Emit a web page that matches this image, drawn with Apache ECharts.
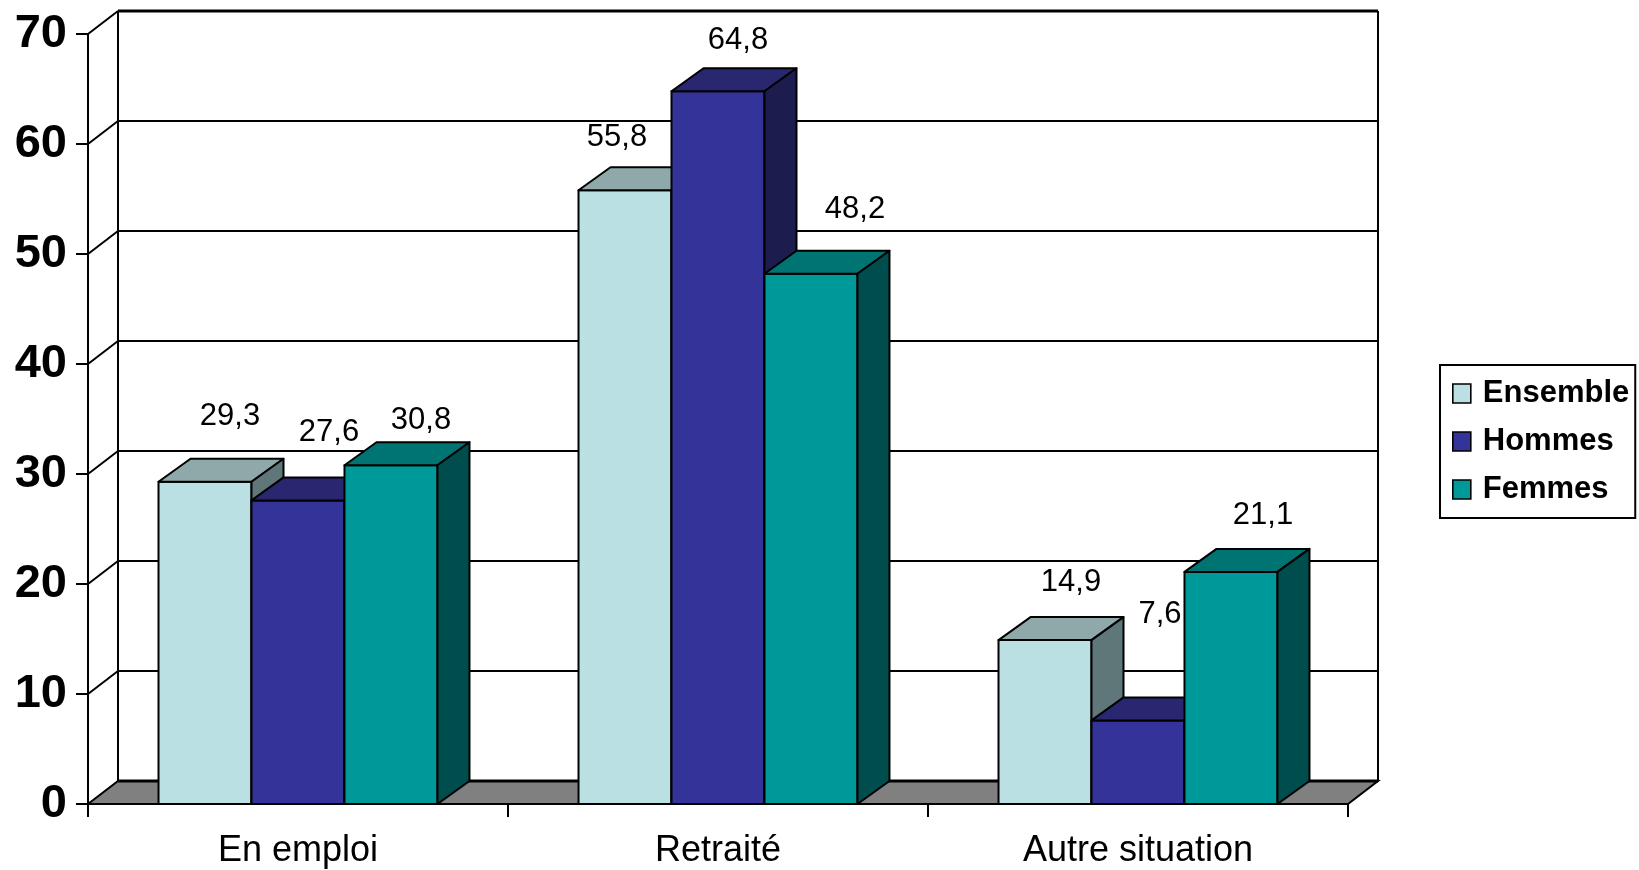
<!DOCTYPE html>
<html>
<head>
<meta charset="utf-8">
<script src="https://cdn.jsdelivr.net/npm/echarts@6/dist/echarts.min.js"></script>
<style>
  html, body { margin: 0; padding: 0; background: #fff; }
  #chart { width: 1639px; height: 870px; }
</style>
</head>
<body>
<div id="chart"></div>
<script>
// Situation categories and the three population groups
const categories = ['En emploi', 'Retraité', 'Autre situation'];
const seriesNames = ['Ensemble', 'Hommes', 'Femmes'];
const ensemble = [29.3, 55.8, 14.9];
const hommes = [27.6, 64.8, 7.6];
const femmes = [30.8, 48.2, 21.1];
const yMin = 0;
const yMax = 70;
const yStep = 10;

const FONT = "'Liberation Sans', Arial, Helvetica, sans-serif";

// Face colours of each block: front, top, right side
const palette = [
  { front: '#BAE0E3', top: '#8FA9AB', side: '#5F7778' },
  { front: '#333399', top: '#28276F', side: '#1D1C4E' },
  { front: '#009999', top: '#007373', side: '#004D4D' }
];

// Small per-label nudges (px) from the back-centre of each block's top
const labelNudge = [
  [[-7, -42], [-40, -30], [-6, -35]],
  [[-1, -45], [-12, -28], [-10, -83]],
  [[-2, -22], [12, -41], [0, -33]]
];

const BAR_DEPTH = [32, -23];   // oblique offset of a block's back face
const WALL_DEPTH = [30, -23];  // oblique offset of the back wall
const BAR_FRACTION = 0.2214;   // block width as a share of a category band
const EDGE = { stroke: '#000', lineWidth: 2, lineJoin: 'round' };

const valuesBySeries = [ensemble, hommes, femmes];

function blockGeometry(api, seriesIdx, catIdx, value) {
  const base = api.coord([catIdx, 0]);
  const top = api.coord([catIdx, value]);
  const band = api.size([1, 0])[0];
  const bw = band * BAR_FRACTION;
  const x0 = base[0] - 1.5 * bw + seriesIdx * bw;
  return { x0: x0, x1: x0 + bw, yb: base[1], yt: top[1], bw: bw };
}

function blockRenderer(seriesIdx) {
  return function (params, api) {
    const g = blockGeometry(api, seriesIdx, api.value(0), api.value(1));
    const dx = BAR_DEPTH[0], dy = BAR_DEPTH[1];
    const c = palette[seriesIdx];
    return {
      type: 'group',
      children: [
        { type: 'polygon',
          shape: { points: [[g.x0, g.yt], [g.x1, g.yt], [g.x1, g.yb], [g.x0, g.yb]] },
          style: Object.assign({ fill: c.front }, EDGE) },
        { type: 'polygon',
          shape: { points: [[g.x0, g.yt], [g.x0 + dx, g.yt + dy], [g.x1 + dx, g.yt + dy], [g.x1, g.yt]] },
          style: Object.assign({ fill: c.top }, EDGE) },
        { type: 'polygon',
          shape: { points: [[g.x1, g.yt], [g.x1 + dx, g.yt + dy], [g.x1 + dx, g.yb + dy], [g.x1, g.yb]] },
          style: Object.assign({ fill: c.side }, EDGE) }
      ]
    };
  };
}

// Back wall, left wall gridlines and grey floor
function wallRenderer(params, api) {
  const cs = params.coordSys;
  const dx = WALL_DEPTH[0], dy = WALL_DEPTH[1];
  const xl = cs.x, xr = cs.x + cs.width;
  const children = [];
  const y0 = api.coord([0, yMin])[1];
  const yTop = api.coord([0, yMax])[1];
  children.push({ type: 'polygon',
    shape: { points: [[xl, y0], [xr, y0], [xr + dx, y0 + dy], [xl + dx, y0 + dy]] },
    style: { fill: '#808080', stroke: '#000', lineWidth: 2 } });
  for (let v = yMin; v <= yMax; v += yStep) {
    const yf = api.coord([0, v])[1];
    const w = (v === yMin || v === yMax) ? 3.2 : 2;
    children.push({ type: 'line',
      shape: { x1: xl + dx, y1: yf + dy, x2: xr + dx, y2: yf + dy },
      style: { stroke: '#000', lineWidth: w } });
    if (v > yMin) {
      children.push({ type: 'line',
        shape: { x1: xl, y1: yf, x2: xl + dx, y2: yf + dy },
        style: { stroke: '#000', lineWidth: 2 } });
    }
  }
  children.push({ type: 'line',
    shape: { x1: xl + dx, y1: yTop + dy, x2: xl + dx, y2: y0 + dy },
    style: { stroke: '#000', lineWidth: 2 } });
  children.push({ type: 'line',
    shape: { x1: xr + dx, y1: yTop + dy, x2: xr + dx, y2: y0 + dy },
    style: { stroke: '#000', lineWidth: 2 } });
  return { type: 'group', children: children };
}

// Value labels above each block
function labelRenderer(params, api) {
  const si = api.value(2), ci = api.value(0), v = api.value(1);
  const g = blockGeometry(api, si, ci, v);
  const nudge = labelNudge[si][ci];
  return {
    type: 'text',
    x: g.x0 + g.bw / 2 + BAR_DEPTH[0] + nudge[0],
    y: g.yt + BAR_DEPTH[1] + nudge[1],
    style: {
      text: String(v).replace('.', ','),
      fill: '#000',
      font: '31px ' + FONT,
      align: 'center',
      verticalAlign: 'middle'
    }
  };
}

const labelData = [];
valuesBySeries.forEach(function (vals, si) {
  vals.forEach(function (v, ci) { labelData.push([ci, v, si]); });
});

const series = [
  { type: 'custom', name: 'wall', z: 1, silent: true,
    renderItem: wallRenderer, data: [[0, 0]] }
];
seriesNames.forEach(function (name, si) {
  series.push({
    type: 'custom', name: name, z: 3 + si,
    itemStyle: { color: palette[si].front },
    renderItem: blockRenderer(si),
    data: valuesBySeries[si].map(function (v, ci) { return [ci, v]; })
  });
});
series.push({ type: 'custom', name: 'labels', z: 10, silent: true,
  renderItem: labelRenderer, data: labelData });

const chart = echarts.init(document.getElementById('chart'), null, { renderer: 'canvas' });
chart.setOption({
  animation: false,
  backgroundColor: '#fff',
  grid: { left: 88, top: 34, right: 291, bottom: 66 },
  xAxis: {
    type: 'category',
    data: categories,
    boundaryGap: true,
    axisLine: { show: true, lineStyle: { color: '#000', width: 2 } },
    axisTick: { show: true, length: 13, lineStyle: { color: '#000', width: 2 } },
    axisLabel: { color: '#000', fontSize: 36, fontFamily: FONT, margin: 29 },
    splitLine: { show: false }
  },
  yAxis: {
    type: 'value',
    min: yMin, max: yMax, interval: yStep,
    axisLine: { show: true, lineStyle: { color: '#000', width: 2 } },
    axisTick: { show: true, length: 12, lineStyle: { color: '#000', width: 2 } },
    axisLabel: { color: '#000', fontSize: 47, fontWeight: 'bold', fontFamily: FONT, margin: 21 },
    splitLine: { show: false }
  },
  legend: {
    data: seriesNames,
    orient: 'vertical',
    left: 1440, top: 365,
    padding: [13, 6, 13, 12],
    itemGap: 17,
    itemWidth: 18, itemHeight: 19,
    icon: 'rect',
    borderColor: '#000', borderWidth: 2,
    selectedMode: false,
    itemStyle: { borderColor: '#000', borderWidth: 1.6 },
    textStyle: { color: '#000', fontSize: 31, fontWeight: 'bold', fontFamily: FONT, padding: [0, 0, 0, 7] }
  },
  series: series
});
</script>
</body>
</html>
